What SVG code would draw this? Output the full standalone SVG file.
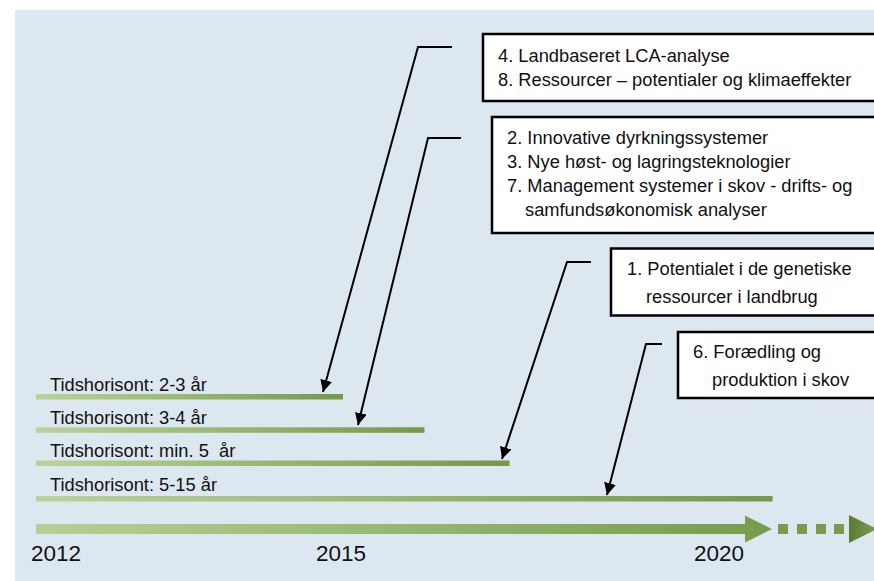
<svg xmlns="http://www.w3.org/2000/svg" width="874" height="581" viewBox="0 0 874 581">
<style>
text{font-family:"Liberation Sans",Arial,sans-serif;font-size:18.3px;fill:#111}
.yr{font-size:22.5px}
.box{fill:#fff;stroke:#000;stroke-width:2.5}
.bar{fill:url(#barGrad)}
.conn{fill:none;stroke:#000;stroke-width:2;marker-end:url(#ah)}
</style>
<defs>
<linearGradient id="barGrad" x1="0" y1="0" x2="1" y2="0">
<stop offset="0" stop-color="#b9d39b"/>
<stop offset="1" stop-color="#76984a"/>
</linearGradient>
<linearGradient id="tlGrad" x1="0" y1="0" x2="1" y2="0">
<stop offset="0" stop-color="#b5d097"/>
<stop offset="1" stop-color="#789b4c"/>
</linearGradient>
<linearGradient id="endGrad" x1="0" y1="0" x2="1" y2="0">
<stop offset="0" stop-color="#5c7b36"/>
<stop offset="1" stop-color="#7b9e4f"/>
</linearGradient>
<marker id="ah" viewBox="0 0 10 10" refX="10" refY="5" markerWidth="6" markerHeight="6" orient="auto" markerUnits="strokeWidth">
<path d="M0,0 L10,5 L0,10 z" fill="#000"/>
</marker>
</defs>
<rect x="15" y="10" width="859" height="571" fill="#dde7f0"/>

<g id="timeline">
<path d="M36,524 H745 V515.5 L772,529 L745,542.5 V534 H36 Z" fill="url(#tlGrad)"/>
<rect x="778" y="524" width="10" height="10" fill="#789b4c"/>
<rect x="797" y="524" width="10" height="10" fill="#789b4c"/>
<rect x="816" y="524" width="10" height="10" fill="#789b4c"/>
<rect x="834" y="524" width="10" height="10" fill="#789b4c"/>
<polygon points="849,515 877,529 849,543" fill="url(#endGrad)"/>
<text class="yr" x="31" y="561">2012</text>
<text class="yr" x="316" y="561">2015</text>
<text class="yr" x="694" y="561">2020</text>
</g>

<g id="bar1">
<rect class="bar" x="36" y="394" width="307" height="5.5"/>
<text x="50" y="391">Tidshorisont: 2-3 år</text>
</g>
<g id="bar2">
<rect class="bar" x="36" y="427.3" width="388.5" height="5.5"/>
<text x="50" y="423.5">Tidshorisont: 3-4 år</text>
</g>
<g id="bar3">
<rect class="bar" x="36" y="460.5" width="473.5" height="5.5"/>
<text x="50" y="457" xml:space="preserve">Tidshorisont: min. 5  år</text>
</g>
<g id="bar4">
<rect class="bar" x="36" y="496" width="736.5" height="5.5"/>
<text x="50" y="491">Tidshorisont: 5-15 år</text>
</g>

<g id="box1">
<rect class="box" x="483" y="34" width="400" height="67"/>
<text x="498" y="62">4. Landbaseret LCA-analyse</text>
<text x="498" y="86">8. Ressourcer – potentialer og klimaeffekter</text>
</g>
<g id="box2">
<rect class="box" x="492" y="117" width="400" height="116"/>
<text x="507" y="144">2. Innovative dyrkningssystemer</text>
<text x="507" y="168">3. Nye høst- og lagringsteknologier</text>
<text x="507" y="192">7. Management systemer i skov - drifts- og</text>
<text x="525" y="216">samfundsøkonomisk analyser</text>
</g>
<g id="box3">
<rect class="box" x="611" y="248.5" width="300" height="67"/>
<text x="627" y="275">1. Potentialet i de genetiske</text>
<text x="646" y="303">ressourcer i landbrug</text>
</g>
<g id="box4">
<rect class="box" x="678" y="332" width="300" height="66"/>
<text x="693" y="358">6. Forædling og</text>
<text x="712" y="386">produktion i skov</text>
</g>

<g id="connectors">
<polyline class="conn" points="452,47 418,47 323,392"/>
<polyline class="conn" points="461,138 428,138 358,425"/>
<polyline class="conn" points="591,262 567,262 502,459"/>
<polyline class="conn" points="662,344 646,344 607,495"/>
</g>
</svg>
